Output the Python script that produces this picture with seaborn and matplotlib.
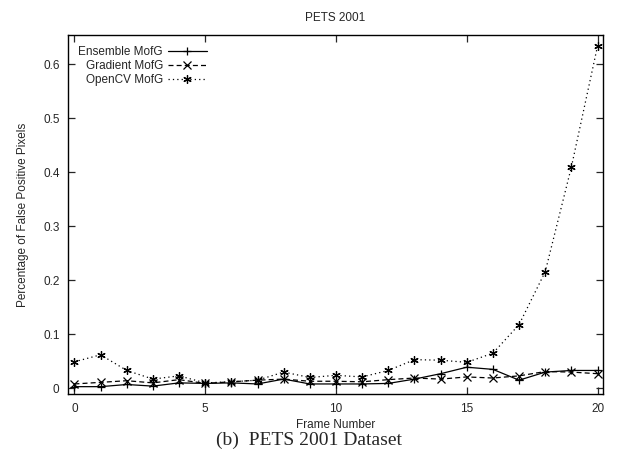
import pandas as pd
import numpy as np
import matplotlib
matplotlib.use("Agg")
import matplotlib.pyplot as plt
import seaborn as sns

sns.set_style("ticks")
plt.rcParams["font.family"] = ["Liberation Sans", "DejaVu Sans"]

# values
frames = list(range(21))
ensemble = [0.003, 0.003, 0.007, 0.004, 0.010, 0.009, 0.010, 0.008, 0.017, 0.008, 0.008,
            0.008, 0.009, 0.017, 0.027, 0.039, 0.035, 0.015, 0.030, 0.033, 0.033]
gradient = [0.008, 0.011, 0.014, 0.010, 0.016, 0.009, 0.012, 0.015, 0.017, 0.013, 0.013,
            0.012, 0.016, 0.019, 0.017, 0.021, 0.019, 0.023, 0.031, 0.030, 0.027]
opencv = [0.049, 0.062, 0.033, 0.017, 0.023, 0.010, 0.012, 0.015, 0.030, 0.020, 0.024,
          0.021, 0.033, 0.053, 0.052, 0.048, 0.065, 0.118, 0.216, 0.410, 0.634]
methods = ["Ensemble MofG", "Gradient MofG", "OpenCV MofG"]

df = pd.concat([
    pd.DataFrame({"frame": frames, "value": vals, "method": name})
    for name, vals in zip(methods, [ensemble, gradient, opencv])
])

fig = plt.figure(figsize=(6.17, 4.49), dpi=100)
ax = fig.add_axes([0.110, 0.122, 0.867, 0.800])

sns.lineplot(data=df, x="frame", y="value", hue="method", style="method",
             palette=["black"] * 3,
             markers={"Ensemble MofG": "+", "Gradient MofG": "x", "OpenCV MofG": (6, 2, 0)},
             dashes={"Ensemble MofG": "", "Gradient MofG": (4, 2.5), "OpenCV MofG": (1, 2.5)},
             linewidth=0.9, markersize=6, markeredgewidth=0.9, markeredgecolor="black",
             ax=ax)

ax.set_xlim(-0.25, 20.2)
ax.set_ylim(-0.011, 0.654)
ax.set_xticks([0, 5, 10, 15, 20])
ax.set_yticks([0, 0.1, 0.2, 0.3, 0.4, 0.5, 0.6])
ax.set_yticklabels(["0", "0.1", "0.2", "0.3", "0.4", "0.5", "0.6"])
ax.tick_params(direction="in", length=5, width=0.9, top=True, right=True,
               labelsize=8.5, pad=6)
for sp in ax.spines.values():
    sp.set_linewidth(1.0)
    sp.set_color("black")

ax.set_title("PETS 2001", fontsize=8.5, pad=10)
ax.set_xlabel("Frame Number", fontsize=8.5, labelpad=3)
ax.set_ylabel("Percentage of False Positive Pixels", fontsize=8.5, labelpad=10)

handles, labels = ax.get_legend_handles_labels()
ax.legend(handles, labels, loc="upper left", bbox_to_anchor=(0.0, 1.0),
          markerfirst=False, frameon=False, fontsize=8.5, handlelength=3.3,
          handletextpad=0.4, labelspacing=0.2, borderaxespad=0.5)

fig.text(0.5, 0.0, "(b)  PETS 2001 Dataset", ha="center", va="bottom",
         fontsize=14, family="Liberation Serif")

fig.savefig("out.png", dpi=100)
